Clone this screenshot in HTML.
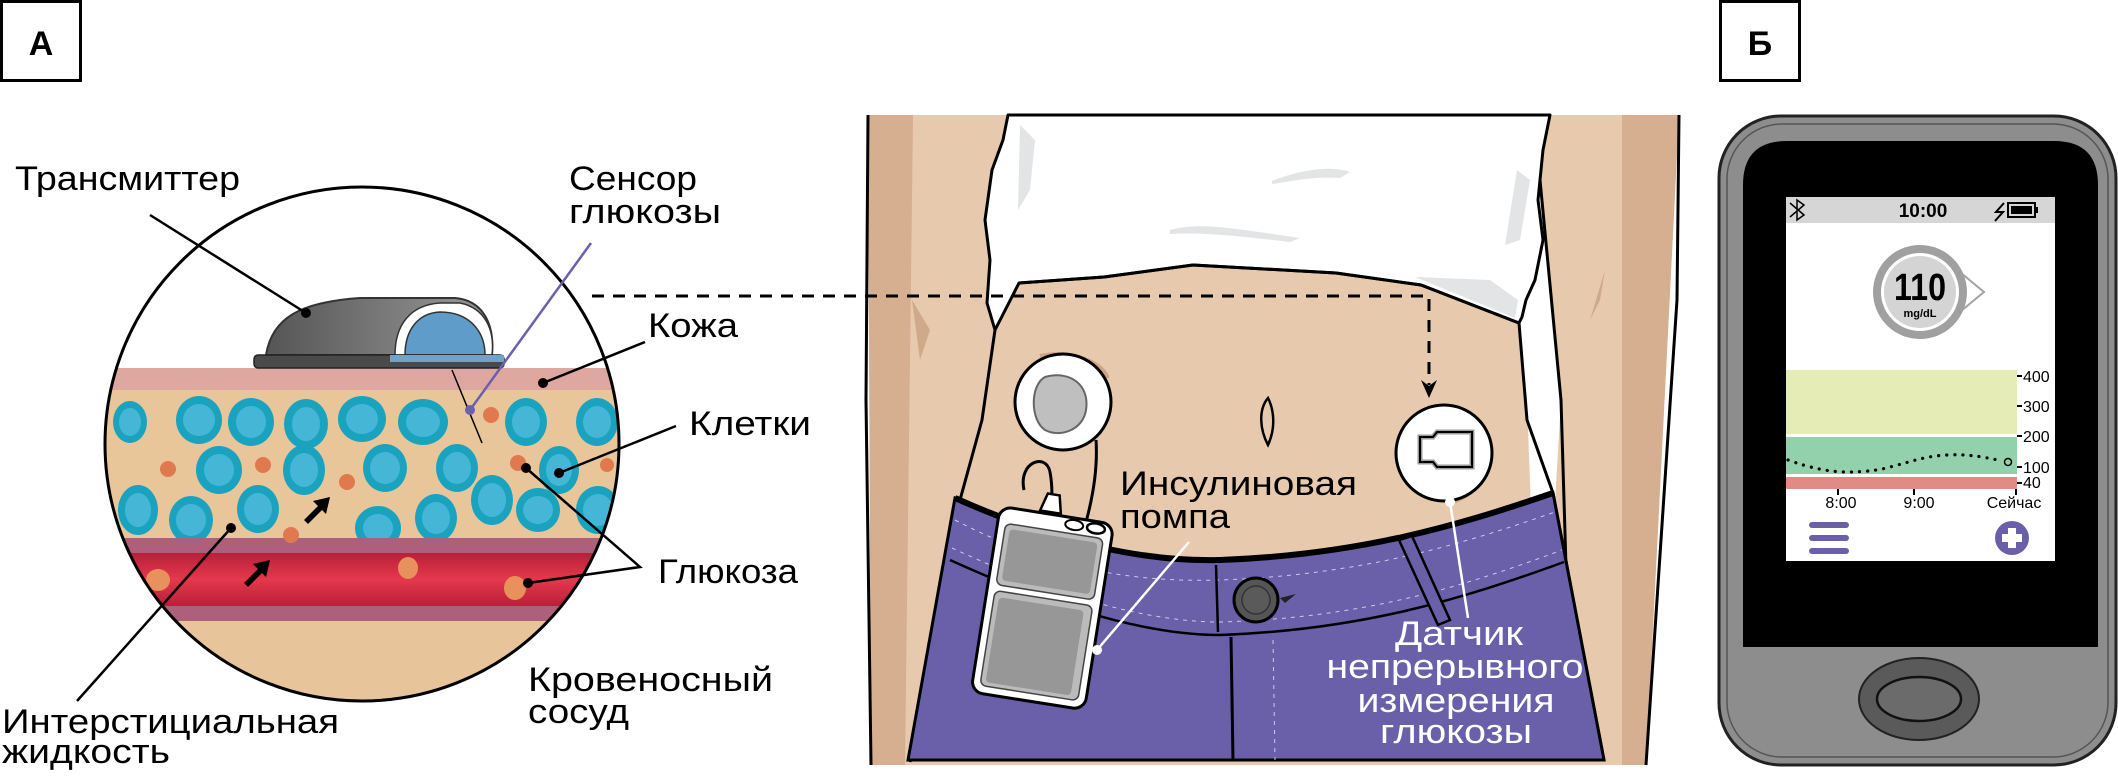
<!DOCTYPE html>
<html><head><meta charset="utf-8"><style>
html,body{margin:0;padding:0;background:#fff;}
svg{display:block;}
text{font-family:"Liberation Sans","Noto Sans CJK SC",sans-serif;}
</style></head><body>
<svg width="2118" height="783" viewBox="0 0 2118 783" xmlns="http://www.w3.org/2000/svg">
<defs>
<clipPath id="circ"><circle cx="362" cy="444" r="257"/></clipPath>
<linearGradient id="red" x1="0" y1="0" x2="0" y2="1"><stop offset="0" stop-color="#b8203a"/><stop offset="0.5" stop-color="#e5384c"/><stop offset="1" stop-color="#b8203a"/></linearGradient>
<linearGradient id="tr" x1="0" y1="0" x2="1" y2="0"><stop offset="0" stop-color="#555"/><stop offset="1" stop-color="#9a9a9a"/></linearGradient>
</defs>

<!-- Panel A -->
<rect x="1.5" y="1.5" width="79" height="79" fill="#fff" stroke="#000" stroke-width="3"/>
<text x="41" y="55" font-size="34" font-weight="bold" text-anchor="middle">А</text>

<g clip-path="url(#circ)">
<rect x="100" y="180" width="530" height="530" fill="#fff"/>
<rect x="100" y="368" width="530" height="22" fill="#dea79f"/>
<rect x="100" y="390" width="530" height="148" fill="#e9c59a"/>
<rect x="100" y="538" width="530" height="15" fill="#ad5f7b"/>
<rect x="100" y="553" width="530" height="53" fill="url(#red)"/>
<rect x="100" y="606" width="530" height="15" fill="#ad5f7b"/>
<rect x="100" y="621" width="530" height="90" fill="#e7c49a"/>
<g fill="#1aa3bf">
<ellipse cx="130" cy="422" rx="17" ry="21"/><ellipse cx="199" cy="420" rx="23" ry="24"/><ellipse cx="251" cy="422" rx="23" ry="24"/><ellipse cx="306" cy="424" rx="22" ry="25"/><ellipse cx="362" cy="419" rx="24" ry="23"/><ellipse cx="423" cy="422" rx="25" ry="23"/><ellipse cx="526" cy="422" rx="21" ry="24"/><ellipse cx="597" cy="422" rx="21" ry="24"/>
<ellipse cx="219" cy="470" rx="23" ry="24"/><ellipse cx="304" cy="470" rx="21" ry="25"/><ellipse cx="385" cy="468" rx="22" ry="24"/><ellipse cx="457" cy="468" rx="21" ry="24"/><ellipse cx="559" cy="470" rx="20" ry="24"/>
<ellipse cx="138" cy="510" rx="20" ry="25"/><ellipse cx="191" cy="520" rx="22" ry="24"/><ellipse cx="258" cy="509" rx="21" ry="24"/><ellipse cx="378" cy="528" rx="23" ry="22"/><ellipse cx="436" cy="518" rx="21" ry="24"/><ellipse cx="492" cy="500" rx="21" ry="25"/><ellipse cx="538" cy="510" rx="22" ry="22"/><ellipse cx="598" cy="510" rx="22" ry="24"/>
</g>
<g fill="#46b6d6">
<ellipse cx="130" cy="422" rx="11" ry="14"/><ellipse cx="199" cy="420" rx="16" ry="16"/><ellipse cx="251" cy="422" rx="15" ry="16"/><ellipse cx="306" cy="424" rx="14" ry="17"/><ellipse cx="362" cy="419" rx="16" ry="15"/><ellipse cx="423" cy="422" rx="17" ry="15"/><ellipse cx="526" cy="422" rx="14" ry="16"/><ellipse cx="597" cy="422" rx="14" ry="16"/>
<ellipse cx="219" cy="470" rx="15" ry="16"/><ellipse cx="304" cy="470" rx="14" ry="17"/><ellipse cx="385" cy="468" rx="15" ry="16"/><ellipse cx="457" cy="468" rx="14" ry="16"/><ellipse cx="559" cy="470" rx="13" ry="16"/>
<ellipse cx="138" cy="510" rx="13" ry="17"/><ellipse cx="191" cy="520" rx="15" ry="16"/><ellipse cx="258" cy="509" rx="14" ry="16"/><ellipse cx="378" cy="528" rx="15" ry="14"/><ellipse cx="436" cy="518" rx="14" ry="16"/><ellipse cx="492" cy="500" rx="14" ry="17"/><ellipse cx="538" cy="510" rx="15" ry="14"/><ellipse cx="598" cy="510" rx="15" ry="16"/>
</g>
<rect x="100" y="538" width="530" height="15" fill="#ad5f7b"/>
<g fill="#e07a4e">
<circle cx="491" cy="415" r="8"/><circle cx="168" cy="469" r="8"/><circle cx="263" cy="465" r="8"/><circle cx="347" cy="482" r="8"/><circle cx="518" cy="463" r="8"/><circle cx="607" cy="465" r="7"/><circle cx="291" cy="535" r="8"/>
</g>
<g fill="#e8915c"><ellipse cx="408" cy="568" rx="10" ry="11"/><ellipse cx="158" cy="580" rx="12" ry="11"/><ellipse cx="515" cy="588" rx="11" ry="12"/></g>
<g fill="#000">
<path d="M304 520 L318 506 L313 501 L330 497 L326 514 L322 510 L308 524 Z"/>
<path d="M244 583 L258 569 L253 564 L270 560 L266 577 L262 573 L248 587 Z"/>
</g>
</g>
<circle cx="362" cy="444" r="257" fill="none" stroke="#000" stroke-width="3"/>
<!-- transmitter -->
<path d="M266 355 C 272 318 300 302 360 298 L 455 298 C 480 300 495 320 492 355 Z" fill="url(#tr)" stroke="#333" stroke-width="2"/>
<path d="M395 355 C 395 325 410 305 440 303 L 460 303 C 485 308 495 330 492 355 Z" fill="#fff" stroke="#333" stroke-width="1.5"/>
<path d="M405 355 C 405 330 418 313 440 312 C 470 312 485 332 485 355 Z" fill="#5f9cc9" stroke="#333" stroke-width="1.5"/>
<rect x="254" y="355" width="250" height="13" rx="4" fill="#4a4a4a" stroke="#222" stroke-width="1.5"/>
<rect x="390" y="355" width="114" height="7" fill="#6fa3cc"/>
<line x1="452" y1="370" x2="482" y2="443" stroke="#000" stroke-width="1.5"/>

<g stroke="#000" stroke-width="2.5" fill="none">
<line x1="150" y1="215" x2="306" y2="313"/>
<line x1="645" y1="342" x2="543" y2="383"/>
<line x1="676" y1="426" x2="559" y2="473"/>
<polyline points="526,468 640,567 528,583"/>
<line x1="77" y1="701" x2="231" y2="528"/>
</g>
<line x1="591" y1="243" x2="470" y2="410" stroke="#6b5fae" stroke-width="2.5"/>
<circle cx="470" cy="410" r="5" fill="#6b5fae"/>
<g fill="#000">
<circle cx="306" cy="313" r="5"/><circle cx="543" cy="383" r="5"/><circle cx="559" cy="473" r="5"/><circle cx="526" cy="468" r="5"/><circle cx="528" cy="583" r="5"/><circle cx="231" cy="528" r="5"/>
</g>
<g font-size="34" fill="#000">
<text x="15" y="190" textLength="225" lengthAdjust="spacingAndGlyphs">Трансмиттер</text>
<text x="569" y="190" textLength="128" lengthAdjust="spacingAndGlyphs">Сенсор</text>
<text x="569" y="223" textLength="152" lengthAdjust="spacingAndGlyphs">глюкозы</text>
<text x="648" y="337" textLength="90" lengthAdjust="spacingAndGlyphs">Кожа</text>
<text x="689" y="435" textLength="122" lengthAdjust="spacingAndGlyphs">Клетки</text>
<text x="658" y="583" textLength="140" lengthAdjust="spacingAndGlyphs">Глюкоза</text>
<text x="528" y="691" textLength="245" lengthAdjust="spacingAndGlyphs">Кровеносный</text>
<text x="528" y="723" textLength="101" lengthAdjust="spacingAndGlyphs">сосуд</text>
<text x="2" y="733" textLength="337" lengthAdjust="spacingAndGlyphs">Интерстициальная</text>
<text x="2" y="763" textLength="168" lengthAdjust="spacingAndGlyphs">жидкость</text>
</g>

<!-- Middle panel -->
<path d="M868 115 L1679 115 L1646 765 L871 765 Z" fill="#e7c9ad"/>
<path d="M868 115 L913 115 L905 765 L871 765 Z" fill="#d6ae90"/>
<path d="M1622 115 L1679 115 L1646 765 L1622 765 Z" fill="#d6ae90"/>
<path d="M912 300 L930 330 L920 360 Z" fill="#cfaa8a"/>
<path d="M1605 270 L1590 320 L1600 300 Z" fill="#cfaa8a"/>
<path d="M868 115 L866 400 L871 765" fill="none" stroke="#000" stroke-width="3"/>
<path d="M1679 115 L1677 300 L1646 765" fill="none" stroke="#000" stroke-width="3"/>
<path d="M1519 323 L1527 400 L1540 760 L1561 400 L1540 180 L1530 170 Z" fill="#fff"/>
<path d="M1540 180 L1561 400 L1570 700" fill="none" stroke="#000" stroke-width="3"/>
<path d="M1008 115 L1550 115 L1543 150 L1538 200 L1543 240 L1535 280 L1526 300 L1522 317 L1519 323 L1421 285 L1336 273 L1193 265 L1104 277 L1019 283 L995 330 L987 303 L990 260 L985 220 L992 170 L1003 140 Z" fill="#fff" stroke="#000" stroke-width="3" stroke-linejoin="round"/>
<path d="M1272 181 C1300 170 1330 165 1350 172 L1340 178 C1310 176 1290 182 1272 184 Z" fill="#e3e4e6"/>
<path d="M1170 230 C1200 222 1230 228 1300 238 L1290 242 C1240 236 1200 232 1170 234 Z" fill="#e3e4e6"/>
<path d="M1020 125 L1035 140 L1030 190 L1018 210 Z" fill="#e3e4e6"/>
<path d="M1517 170 L1530 180 L1520 240 L1505 245 Z" fill="#e3e4e6"/>
<path d="M1415 277 L1490 280 L1518 300 L1515 318 Z" fill="#e3e4e6"/>
<path d="M1019 283 L1104 277 L1193 265 L1336 273 L1421 285 L1519 323" fill="none" stroke="#000" stroke-width="3"/>
<path d="M995 330 L982 420 L960 500 L910 762" fill="none" stroke="#000" stroke-width="3"/>
<path d="M1519 323 L1527 420 L1553 493 L1604 760" fill="none" stroke="#000" stroke-width="3"/>
<path d="M955 498 C1060 545 1150 562 1220 560 C1360 555 1460 525 1553 493 L1604 760 L908 760 Z" fill="#6a5fa9" stroke="#000" stroke-width="3"/>
<path d="M955 498 C1060 545 1150 562 1220 560 C1360 555 1460 525 1553 493" fill="none" stroke="#000" stroke-width="6"/>
<path d="M950 560 C1060 610 1150 635 1220 635 C1360 630 1460 600 1564 562" fill="none" stroke="#000" stroke-width="2.5"/>
<path d="M955 520 C1060 575 1150 582 1220 580 C1360 575 1460 545 1555 512" fill="none" stroke="#cfc9e8" stroke-width="1" stroke-dasharray="4 5"/>
<path d="M952 548 C1060 598 1150 622 1220 622 C1360 618 1460 588 1562 550" fill="none" stroke="#cfc9e8" stroke-width="1" stroke-dasharray="4 5"/>
<line x1="1216" y1="565" x2="1218" y2="632" stroke="#000" stroke-width="2.5"/>
<line x1="1231" y1="637" x2="1233" y2="760" stroke="#000" stroke-width="3"/>
<line x1="1273" y1="640" x2="1275" y2="760" stroke="#cfc9e8" stroke-width="1" stroke-dasharray="4 5"/>
<path d="M1399 540 L1412 536 L1450 620 L1438 625 Z" fill="#6a5fa9" stroke="#000" stroke-width="2.5"/>
<circle cx="1256" cy="600" r="22" fill="#555" stroke="#000" stroke-width="3"/>
<circle cx="1256" cy="600" r="14" fill="#5a5a5a" stroke="#333" stroke-width="1.5"/>
<path d="M1280 598 L1296 594 L1285 603 Z" fill="#222"/>
<!-- infusion set -->
<path d="M1040 356 C1070 350 1100 360 1108 378" fill="none" stroke="#caa588" stroke-width="4"/>
<circle cx="1063" cy="402" r="48" fill="#fff" stroke="#000" stroke-width="3"/>
<path d="M1045 377 C1070 370 1090 385 1086 410 C1083 430 1060 438 1045 430 C1030 420 1030 385 1045 377 Z" fill="#bfbfbf" stroke="#666" stroke-width="2"/>
<path d="M1096 440 C1098 470 1092 500 1086 522" fill="none" stroke="#000" stroke-width="3"/>
<path d="M1024 490 C1018 462 1046 452 1050 472 C1053 488 1052 505 1050 514" fill="none" stroke="#000" stroke-width="3"/>
<!-- pump -->
<g transform="rotate(9 1042 607)">
<path d="M1025 512 L1030 494 L1042 494 L1046 512 Z" fill="#fff" stroke="#000" stroke-width="2.5"/>
<rect x="985" y="514" width="115" height="188" rx="12" fill="#fff" stroke="#000" stroke-width="3"/>
<ellipse cx="1061" cy="521" rx="9" ry="5" fill="#fff" stroke="#000" stroke-width="2"/>
<ellipse cx="1083" cy="521" rx="9" ry="5" fill="#fff" stroke="#000" stroke-width="2.5"/>
<rect x="993" y="530" width="99" height="62" rx="6" fill="#bbb" stroke="#444" stroke-width="1.5"/>
<rect x="998" y="535" width="89" height="52" rx="4" fill="#979797"/>
<rect x="993" y="598" width="99" height="96" rx="6" fill="#bbb" stroke="#444" stroke-width="1.5"/>
<rect x="998" y="604" width="86" height="86" rx="4" fill="#979797"/>
</g>
<line x1="1097" y1="650" x2="1189" y2="542" stroke="#fff" stroke-width="2.5"/>
<circle cx="1097" cy="650" r="5" fill="#fff"/>
<path d="M1268 398 C1258 410 1260 430 1268 445 C1275 430 1275 412 1268 398 Z" fill="none" stroke="#000" stroke-width="2.5"/>
<!-- sensor -->
<path d="M1480 440 C1492 465 1480 495 1450 502" fill="none" stroke="#caa588" stroke-width="5"/>
<circle cx="1444" cy="453" r="48" fill="#fff" stroke="#000" stroke-width="3"/>
<path d="M1420 437 L1433 437 L1437 432 L1472 432 L1472 467 L1437 467 L1433 462 L1420 462 Z" fill="#fff" stroke="#999" stroke-width="5"/>
<path d="M1420 437 L1433 437 L1437 432 L1472 432 L1472 467 L1437 467 L1433 462 L1420 462 Z" fill="none" stroke="#000" stroke-width="2"/>
<line x1="1450" y1="502" x2="1468" y2="618" stroke="#fff" stroke-width="2.5"/>
<circle cx="1450" cy="502" r="5" fill="#fff"/>
<path d="M592 296 L1429 296 L1429 385" fill="none" stroke="#000" stroke-width="3" stroke-dasharray="12 9"/>
<path d="M1421 380 L1429 398 L1437 380 L1429 386 Z" fill="#000"/>
<g font-size="34" fill="#000">
<text x="1120" y="495" textLength="237" lengthAdjust="spacingAndGlyphs">Инсулиновая</text>
<text x="1120" y="528" textLength="110" lengthAdjust="spacingAndGlyphs">помпа</text>
</g>
<g font-size="34" fill="#fff" text-anchor="middle">
<text x="1459" y="645" textLength="128" lengthAdjust="spacingAndGlyphs">Датчик</text>
<text x="1455" y="678" textLength="257" lengthAdjust="spacingAndGlyphs">непрерывного</text>
<text x="1456" y="712" textLength="197" lengthAdjust="spacingAndGlyphs">измерения</text>
<text x="1456" y="743" textLength="152" lengthAdjust="spacingAndGlyphs">глюкозы</text>
</g>

<!-- Panel B -->
<rect x="1720.5" y="1.5" width="79" height="79" fill="#fff" stroke="#000" stroke-width="3"/>
<text x="1760" y="55" font-size="34" font-weight="bold" text-anchor="middle">Б</text>
<rect x="1719" y="116" width="397" height="649" rx="62" fill="#8d8d8d" stroke="#222" stroke-width="3"/>
<rect x="1727" y="124" width="381" height="633" rx="55" fill="none" stroke="#555" stroke-width="1.5"/>
<path d="M1743 647 L1743 185 Q1743 141 1787 141 L2054 141 Q2098 141 2098 185 L2098 647 Z" fill="#000"/>
<rect x="1786" y="197" width="269" height="364" fill="#fff"/>
<rect x="1786" y="197" width="269" height="26" fill="#d6d6d6"/>
<text x="1923" y="217" font-size="19" font-weight="bold" text-anchor="middle">10:00</text>
<path d="M1790 203 L1804 215 L1797 220 L1797 200 L1804 205 L1790 217" fill="none" stroke="#000" stroke-width="1.5"/>
<path d="M2004 203 L1996 212 L2003 212 L1995 221" fill="none" stroke="#000" stroke-width="2"/>
<rect x="2008" y="203" width="27" height="14" fill="none" stroke="#000" stroke-width="2"/>
<rect x="2011" y="206" width="21" height="8" fill="#000"/>
<rect x="2035" y="207" width="3" height="6" fill="#000"/>
<path d="M1955 268 L1984 292 L1955 316" fill="none" stroke="#a3a3a3" stroke-width="2"/>
<circle cx="1920" cy="292" r="43" fill="#fff" stroke="#a0a0a0" stroke-width="8"/>
<circle cx="1920" cy="292" r="36" fill="#d4d4d4"/>
<text x="1920" y="300" font-size="38" font-weight="bold" text-anchor="middle" textLength="52" lengthAdjust="spacingAndGlyphs">110</text>
<text x="1920" y="317" font-size="11" font-weight="bold" text-anchor="middle">mg/dL</text>
<rect x="1786" y="370" width="231" height="64" fill="#e6ecb6"/>
<rect x="1786" y="437" width="231" height="37" fill="#93d1ac"/>
<rect x="1786" y="477" width="231" height="12" fill="#e08b86"/>
<path d="M1788 460 C1810 468 1830 472 1847 472 C1865 472 1880 470 1890 467 C1910 462 1925 456 1947 455 C1965 454 1980 456 2002 461" fill="none" stroke="#000" stroke-width="3.2" stroke-linecap="round" stroke-dasharray="0.1 8"/>
<circle cx="2008" cy="462" r="3.5" fill="none" stroke="#000" stroke-width="1.5"/>
<g stroke="#000" stroke-width="2">
<line x1="2017" y1="376" x2="2022" y2="376"/><line x1="2017" y1="406" x2="2022" y2="406"/><line x1="2017" y1="436" x2="2022" y2="436"/><line x1="2017" y1="467" x2="2022" y2="467"/><line x1="2017" y1="483" x2="2022" y2="483"/>
<line x1="1838" y1="489" x2="1838" y2="495"/><line x1="1914" y1="489" x2="1914" y2="495"/><line x1="2016" y1="489" x2="2016" y2="495"/>
</g>
<g font-size="16" fill="#000">
<text x="2023" y="382">400</text><text x="2023" y="412">300</text><text x="2023" y="442">200</text><text x="2023" y="473">100</text><text x="2023" y="488">40</text>
</g>
<g font-size="16" fill="#000" text-anchor="middle">
<text x="1841" y="508">8:00</text><text x="1919" y="508">9:00</text><text x="2014" y="508">Сейчас</text>
</g>
<g stroke="#6a5fa9" stroke-width="6" stroke-linecap="round">
<line x1="1812" y1="525" x2="1846" y2="525"/><line x1="1812" y1="538" x2="1846" y2="538"/><line x1="1812" y1="551" x2="1846" y2="551"/>
</g>
<circle cx="2012" cy="538" r="17" fill="#6a5fa9"/>
<path d="M2008 528 h8 v6 h6 v8 h-6 v6 h-8 v-6 h-6 v-8 h6 Z" fill="#fff"/>
<ellipse cx="1919" cy="699" rx="60" ry="41" fill="#5a5a5a" stroke="#222" stroke-width="2"/>
<ellipse cx="1919" cy="699" rx="42" ry="22" fill="#6b6b6b" stroke="#111" stroke-width="2.5"/>
</svg>
</body></html>
